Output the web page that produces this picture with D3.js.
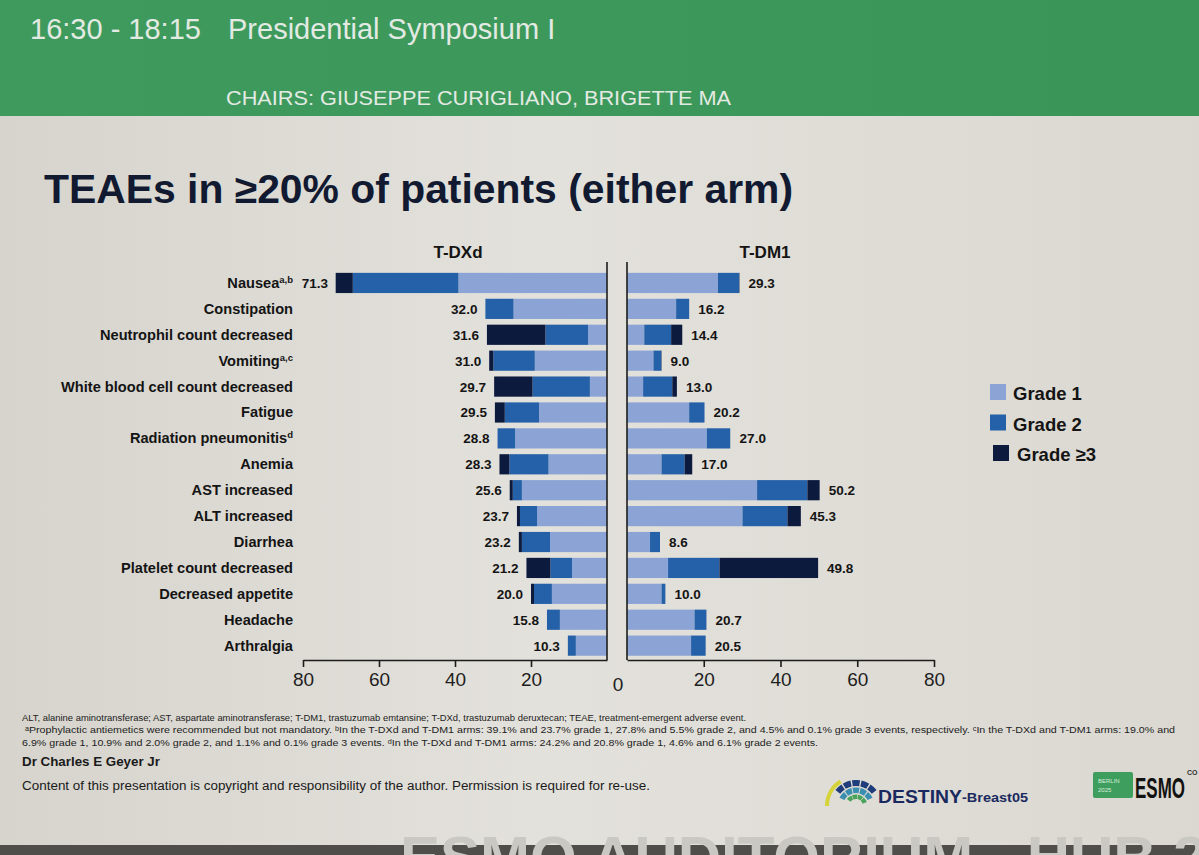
<!DOCTYPE html>
<html>
<head>
<meta charset="utf-8">
<script src="https://cdn.jsdelivr.net/npm/d3@7"></script>
<style>
  html, body { margin: 0; padding: 0; background: #55544f; }
  svg { display: block; }
  text { font-family: "Liberation Sans", Arial, sans-serif; }
</style>
</head>
<body>
<div id="chart"></div>
<script>
// ---- data ----
const categories = ["Nausea", "Constipation", "Neutrophil count decreased", "Vomiting",
  "White blood cell count decreased", "Fatigue", "Radiation pneumonitis", "Anemia",
  "AST increased", "ALT increased", "Diarrhea", "Platelet count decreased",
  "Decreased appetite", "Headache", "Arthralgia"];
const labelSup = ["a,b", "", "", "a,c", "", "", "d", "", "", "", "", "", "", "", ""];

const tdxdG1 = [39.1, 24.6, 5.0, 19.0, 4.5, 17.9, 24.2, 15.4, 22.4, 18.4, 15.0, 9.2, 14.5, 12.4, 8.2];
const tdxdG2 = [27.8, 7.4, 11.2, 10.9, 15.1, 9.0, 4.6, 10.3, 2.4, 4.5, 7.4, 5.7, 4.7, 3.4, 2.1];
const tdxdG3 = [4.5, 0, 15.4, 1.1, 10.1, 2.6, 0, 2.6, 0.8, 0.8, 0.8, 6.3, 0.8, 0, 0];
const tdxdTotal = [71.3, 32.0, 31.6, 31.0, 29.7, 29.5, 28.8, 28.3, 25.6, 23.7, 23.2, 21.2, 20.0, 15.8, 10.3];

const tdm1G1 = [23.7, 12.8, 4.5, 6.9, 4.2, 16.2, 20.8, 9.0, 33.9, 30.1, 6.0, 10.7, 9.0, 17.6, 16.7];
const tdm1G2 = [5.5, 3.4, 7.0, 2.0, 7.6, 4.0, 6.1, 6.0, 13.1, 11.7, 2.6, 13.4, 1.0, 3.1, 3.8];
const tdm1G3 = [0.1, 0, 2.9, 0.1, 1.2, 0, 0, 2.0, 3.2, 3.5, 0, 25.7, 0, 0, 0];
const tdm1Total = [29.3, 16.2, 14.4, 9.0, 13.0, 20.2, 27.0, 17.0, 50.2, 45.3, 8.6, 49.8, 10.0, 20.7, 20.5];

const gradeKeys = ["g1", "g2", "g3"];
const gradeLabels = ["Grade 1", "Grade 2", "Grade \u22653"];
const axisTicks = [20, 40, 60, 80];

const footnotes = [
  "ALT, alanine aminotransferase; AST, aspartate aminotransferase; T-DM1, trastuzumab emtansine; T-DXd, trastuzumab deruxtecan; TEAE, treatment-emergent adverse event.",
  "\u1d43Prophylactic antiemetics were recommended but not mandatory. \u1d47In the T-DXd and T-DM1 arms: 39.1% and 23.7% grade 1, 27.8% and 5.5% grade 2, and 4.5% and 0.1% grade 3 events, respectively. \u1d9cIn the T-DXd and T-DM1 arms: 19.0% and",
  "6.9% grade 1, 10.9% and 2.0% grade 2, and 1.1% and 0.1% grade 3 events. \u1d48In the T-DXd and T-DM1 arms: 24.2% and 20.8% grade 1, 4.6% and 6.1% grade 2 events."
];

// ---- layout ----
const width = 1199, height = 855;
const colors = { g1: "#8ba4d5", g2: "#2561a8", g3: "#0c1a3e" };
const ink = "#141414";

const svg = d3.select("#chart").append("svg")
  .attr("width", width).attr("height", height);

const defs = svg.append("defs");
const bg = defs.append("linearGradient").attr("id", "slide-bg")
  .attr("x1", "0%").attr("x2", "100%").attr("y1", "0%").attr("y2", "0%");
bg.append("stop").attr("offset", "0%").attr("stop-color", "#d6d4cd");
bg.append("stop").attr("offset", "45%").attr("stop-color", "#e3e1db");
bg.append("stop").attr("offset", "100%").attr("stop-color", "#dad8d1");
const gr = defs.append("linearGradient").attr("id", "green-bg")
  .attr("x1", "0%").attr("x2", "100%").attr("y1", "0%").attr("y2", "0%");
gr.append("stop").attr("offset", "0%").attr("stop-color", "#3f9b5d");
gr.append("stop").attr("offset", "100%").attr("stop-color", "#3a9658");

// header band
svg.append("rect").attr("width", width).attr("height", 118).attr("fill", "url(#green-bg)");
svg.append("rect").attr("y", 116).attr("width", width).attr("height", 730).attr("fill", "url(#slide-bg)");
svg.append("rect").attr("y", 845).attr("width", width).attr("height", 10).attr("fill", "#4f4e4a");
svg.append("text").attr("x", 400).attr("y", 878)
  .attr("font-size", 60).attr("font-weight", 700).attr("fill", "#c9c8c2")
  .attr("font-family", "Roboto, sans-serif")
  .text("ESMO AUDITORIUM - HUB 27");

const header = svg.append("g").attr("fill", "#e3eae3");
header.append("text").attr("x", 30).attr("y", 39).attr("font-size", 29).attr("font-weight", 300)
  .attr("font-family", "Roboto, sans-serif").text("16:30 - 18:15");
header.append("text").attr("x", 228).attr("y", 39).attr("font-size", 29).attr("font-weight", 300)
  .attr("font-family", "Roboto, sans-serif").text("Presidential Symposium I");
header.append("text").attr("x", 226).attr("y", 105).attr("font-size", 20).attr("font-weight", 300)
  .attr("font-family", "Roboto, sans-serif")
  .attr("textLength", 505).attr("lengthAdjust", "spacingAndGlyphs")
  .text("CHAIRS: GIUSEPPE CURIGLIANO, BRIGETTE MA");

// title
svg.append("text").attr("x", 44).attr("y", 203)
  .attr("font-size", 40).attr("font-weight", 700).attr("fill", "#111a30")
  .attr("textLength", 749).attr("lengthAdjust", "spacingAndGlyphs")
  .text("TEAEs in \u226520% of patients (either arm)");

// ---- scales ----
const yScale = d3.scaleBand().domain(categories).range([270, 658.6]).paddingInner(0.22).paddingOuter(0.11);
const xLeft = d3.scaleLinear().domain([0, 80]).range([607, 303]);
const xRight = d3.scaleLinear().domain([0, 80]).range([627, 934]);
const axisY = 660;

const leftRows = categories.map((c, i) => ({ cat: c, g1: tdxdG1[i], g2: tdxdG2[i], g3: tdxdG3[i], total: tdxdTotal[i] }));
const rightRows = categories.map((c, i) => ({ cat: c, g1: tdm1G1[i], g2: tdm1G2[i], g3: tdm1G3[i], total: tdm1Total[i] }));
const stack = d3.stack().keys(gradeKeys);

function drawPanel(rows, x, side) {
  const g = svg.append("g").attr("class", "panel-" + side);
  const series = stack(rows);
  g.selectAll("g.series")
    .data(series)
    .join("g")
    .attr("class", "series")
    .attr("fill", (s) => colors[s.key])
    .selectAll("rect")
    .data((s) => s)
    .join("rect")
    .attr("x", (d) => Math.min(x(d[0]), x(d[1])))
    .attr("y", (d) => yScale(d.data.cat))
    .attr("width", (d) => Math.abs(x(d[1]) - x(d[0])))
    .attr("height", yScale.bandwidth());

  g.selectAll("text.value")
    .data(rows)
    .join("text")
    .attr("class", "value")
    .attr("x", (d) => side === "left" ? x(d.total) - 8 : x(d.total) + 9)
    .attr("y", (d) => yScale(d.cat) + yScale.bandwidth() / 2 + 5)
    .attr("text-anchor", side === "left" ? "end" : "start")
    .attr("font-size", 13.5).attr("font-weight", 700).attr("fill", ink)
    .text((d) => d.total.toFixed(1));

  // vertical baseline
  g.append("line")
    .attr("x1", x(0)).attr("x2", x(0))
    .attr("y1", 262).attr("y2", axisY)
    .attr("stroke", "#1c1c1c").attr("stroke-width", 1.6);

  // bottom axis
  const ax = g.append("g")
    .attr("transform", `translate(0,${axisY})`)
    .call(d3.axisBottom(x).tickValues(axisTicks).tickSize(7).tickSizeOuter(0).tickPadding(6));
  ax.select(".domain").attr("stroke", "#1c1c1c").attr("stroke-width", 1.6);
  ax.selectAll(".tick line").attr("stroke", "#1c1c1c").attr("stroke-width", 1.6);
  ax.selectAll(".tick text")
    .attr("font-size", 19).attr("fill", "#1e1e1e")
    .attr("font-family", "'Liberation Sans', Arial, sans-serif");
}

drawPanel(leftRows, xLeft, "left");
drawPanel(rightRows, xRight, "right");

// shared zero label
svg.append("text")
  .attr("x", (xLeft(0) + xRight(0)) / 2 + 1).attr("y", axisY + 31)
  .attr("text-anchor", "middle").attr("font-size", 19).attr("fill", "#1e1e1e")
  .text("0");

// panel headers
svg.append("text").attr("x", 458).attr("y", 258).attr("text-anchor", "middle")
  .attr("font-size", 17).attr("font-weight", 700).attr("fill", ink).text("T-DXd");
svg.append("text").attr("x", 765).attr("y", 258).attr("text-anchor", "middle")
  .attr("font-size", 17).attr("font-weight", 700).attr("fill", ink).text("T-DM1");

// category labels
const labels = svg.append("g").selectAll("text")
  .data(categories)
  .join("text")
  .attr("x", 293)
  .attr("y", (d) => yScale(d) + yScale.bandwidth() / 2 + 5)
  .attr("text-anchor", "end")
  .attr("font-size", 14.6).attr("font-weight", 700).attr("fill", ink);
labels.append("tspan").text((d) => d);
labels.filter((d, i) => labelSup[i] !== "")
  .append("tspan")
  .attr("font-size", 9.5).attr("dy", -5)
  .text((d) => labelSup[categories.indexOf(d)]);

// legend
const legend = svg.append("g").attr("transform", "translate(990,384)");
legend.selectAll("rect")
  .data(gradeKeys)
  .join("rect")
  .attr("x", (d, i) => i === 2 ? 3 : 0)
  .attr("y", (d, i) => i * 30.5)
  .attr("width", 16).attr("height", 16)
  .attr("fill", (d) => colors[d]);
legend.selectAll("text")
  .data(gradeLabels)
  .join("text")
  .attr("x", (d, i) => i === 2 ? 27 : 23)
  .attr("y", (d, i) => i * 30.5 + 16)
  .attr("font-size", 18.5).attr("font-weight", 700).attr("fill", ink)
  .text((d) => d);

// footnotes
const fnWidths = [724, 1150, 796];
const fnX = [22, 25, 22];
svg.append("g").selectAll("text")
  .data(footnotes)
  .join("text")
  .attr("x", (d, i) => fnX[i])
  .attr("y", (d, i) => 721 + i * 12.3)
  .attr("font-size", 9.6).attr("fill", "#222")
  .attr("textLength", (d, i) => fnWidths[i]).attr("lengthAdjust", "spacingAndGlyphs")
  .text((d) => d);

svg.append("text").attr("x", 22).attr("y", 766)
  .attr("font-size", 12.5).attr("font-weight", 700).attr("fill", "#1a1a1a")
  .attr("textLength", 138).attr("lengthAdjust", "spacingAndGlyphs")
  .text("Dr Charles E Geyer Jr");
svg.append("text").attr("x", 22).attr("y", 790)
  .attr("font-size", 12.5).attr("fill", "#1a1a1a")
  .attr("textLength", 628).attr("lengthAdjust", "spacingAndGlyphs")
  .text("Content of this presentation is copyright and responsibility of the author. Permission is required for re-use.");

// DESTINY-Breast05 logo
const logo = svg.append("g").attr("transform", "translate(856,806)");
const arc = d3.arc();
logo.append("path")
  .attr("d", arc({ innerRadius: 27, outerRadius: 31, startAngle: -Math.PI * 0.5, endAngle: -Math.PI * 0.18 }))
  .attr("fill", "#d6d23a");
const tileRings = [
  { r0: 20, r1: 26, n: 5, a0: -0.3, a1: 0.3, fill: "#1f3d7a" },
  { r0: 13, r1: 18.5, n: 5, a0: -0.36, a1: 0.36, fill: "#3a8fb0" },
  { r0: 7, r1: 11.5, n: 4, a0: -0.3, a1: 0.4, fill: "#4aa35a" }
];
tileRings.forEach((ring) => {
  const step = (ring.a1 - ring.a0) / ring.n;
  d3.range(ring.n).forEach((k) => {
    logo.append("path")
      .attr("d", arc({
        innerRadius: ring.r0, outerRadius: ring.r1,
        startAngle: Math.PI * (ring.a0 + k * step) + 0.03,
        endAngle: Math.PI * (ring.a0 + (k + 1) * step) - 0.03
      }))
      .attr("fill", ring.fill);
  });
});
svg.append("text").attr("x", 878).attr("y", 803)
  .attr("font-size", 19).attr("font-weight", 700).attr("fill", "#1b2a5e")
  .attr("textLength", 84).attr("lengthAdjust", "spacingAndGlyphs").text("DESTINY");
svg.append("text").attr("x", 962).attr("y", 802)
  .attr("font-size", 12.5).attr("font-weight", 700).attr("fill", "#1b2a5e")
  .attr("textLength", 66).attr("lengthAdjust", "spacingAndGlyphs").text("-Breast05");

// ESMO logo
svg.append("rect").attr("x", 1093).attr("y", 772).attr("width", 40).attr("height", 26)
  .attr("rx", 2).attr("fill", "#3e9e5e");
svg.append("text").attr("x", 1098).attr("y", 783).attr("font-size", 6).attr("fill", "#d9eedd").text("BERLIN");
svg.append("text").attr("x", 1098).attr("y", 792).attr("font-size", 6).attr("fill", "#d9eedd").text("2025");
svg.append("text").attr("x", 1135).attr("y", 798)
  .attr("font-size", 30).attr("font-weight", 700).attr("fill", "#141210")
  .attr("textLength", 50).attr("lengthAdjust", "spacingAndGlyphs").text("ESMO");
svg.append("text").attr("x", 1187).attr("y", 775)
  .attr("font-size", 7).attr("font-weight", 700).attr("fill", "#333").text("CO");
</script>
</body>
</html>
